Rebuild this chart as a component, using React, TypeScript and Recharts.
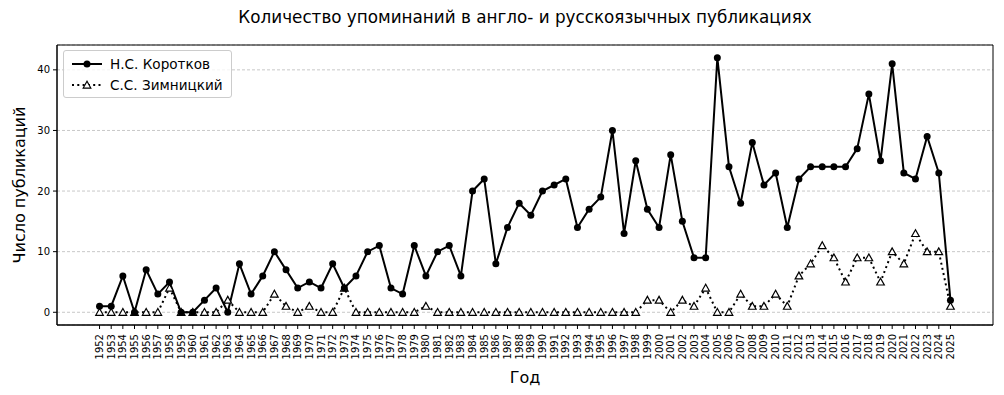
import React from "react";
import {
  LineChart,
  Line,
  XAxis,
  YAxis,
  CartesianGrid,
  ReferenceArea,
} from "recharts";

const years = [
  1952, 1953, 1954, 1955, 1956, 1957, 1958, 1959, 1960, 1961, 1962, 1963,
  1964, 1965, 1966, 1967, 1968, 1969, 1970, 1971, 1972, 1973, 1974, 1975,
  1976, 1977, 1978, 1979, 1980, 1981, 1982, 1983, 1984, 1985, 1986, 1987,
  1988, 1989, 1990, 1991, 1992, 1993, 1994, 1995, 1996, 1997, 1998, 1999,
  2000, 2001, 2002, 2003, 2004, 2005, 2006, 2007, 2008, 2009, 2010, 2011,
  2012, 2013, 2014, 2015, 2016, 2017, 2018, 2019, 2020, 2021, 2022, 2023,
  2024, 2025,
];

const korotkov = [
  1, 1, 6, 0, 7, 3, 5, 0, 0, 2, 4, 0,
  8, 3, 6, 10, 7, 4, 5, 4, 8, 4, 6, 10,
  11, 4, 3, 11, 6, 10, 11, 6, 20, 22, 8, 14,
  18, 16, 20, 21, 22, 14, 17, 19, 30, 13, 25, 17,
  14, 26, 15, 9, 9, 42, 24, 18, 28, 21, 23, 14,
  22, 24, 24, 24, 24, 27, 36, 25, 41, 23, 22, 29,
  23, 2,
];

const zimnitsky = [
  0, 0, 0, 0, 0, 0, 4, 0, 0, 0, 0, 2,
  0, 0, 0, 3, 1, 0, 1, 0, 0, 4, 0, 0,
  0, 0, 0, 0, 1, 0, 0, 0, 0, 0, 0, 0,
  0, 0, 0, 0, 0, 0, 0, 0, 0, 0, 0, 2,
  2, 0, 2, 1, 4, 0, 0, 3, 1, 1, 3, 1,
  6, 8, 11, 9, 5, 9, 9, 5, 10, 8, 13, 10,
  10, 1,
];

const yTicks = [0, 10, 20, 30, 40];

const NAME_K = "Н.С. Коротков";
const NAME_Z = "С.С. Зимницкий";
const FONT = "'DejaVu Sans', sans-serif";

const data = years.map((year, i) => ({
  year,
  k: korotkov[i],
  z: zimnitsky[i],
}));

// matplotlib-like padding (5% each side)
const xSpan = years[years.length - 1] - years[0];
const xMin = years[0] - xSpan * 0.05;
const xMax = years[years.length - 1] + xSpan * 0.05;
const yMin = -2.1;
const yMax = 44.1;

const YearTick = ({ x, y, payload }: any) => (
  <text
    x={x}
    y={y}
    transform={`rotate(-90 ${x} ${y})`}
    textAnchor="end"
    dominantBaseline="central"
    fontSize={10}
    fill="#000"
    fontFamily={FONT}
  >
    {payload.value}
  </text>
);

const Triangle = ({ cx, cy }: any) => {
  if (cx == null || cy == null) return null;
  const s = 3.8;
  return (
    <polygon
      points={`${cx},${cy - s} ${cx - s},${cy + s * 0.8} ${cx + s},${cy + s * 0.8}`}
      fill="#fff"
      stroke="#000"
      strokeWidth={1.2}
    />
  );
};

const LegendBox = () => (
  <div
    style={{
      position: "absolute",
      left: 63,
      top: 50,
      border: "1px solid #ccc",
      borderRadius: 3,
      background: "rgba(255,255,255,0.8)",
      padding: "2px 8px 2px 6px",
      fontSize: 13.6,
      color: "#000",
    }}
  >
    <div style={{ display: "flex", alignItems: "center", height: 21 }}>
      <svg width={34} height={12} style={{ marginRight: 6 }}>
        <line x1={2} y1={6} x2={32} y2={6} stroke="#000" strokeWidth={2} />
        <circle cx={17} cy={6} r={3.5} fill="#000" />
      </svg>
      {NAME_K}
    </div>
    <div style={{ display: "flex", alignItems: "center", height: 21 }}>
      <svg width={34} height={12} style={{ marginRight: 6 }}>
        <line
          x1={2}
          y1={6}
          x2={32}
          y2={6}
          stroke="#000"
          strokeWidth={2}
          strokeDasharray="2 3.3"
        />
        <Triangle cx={17} cy={6} />
      </svg>
      {NAME_Z}
    </div>
  </div>
);

export default function App() {
  return (
    <div
      style={{
        position: "absolute",
        left: 0,
        top: 0,
        width: 1004,
        height: 395,
        background: "#fff",
        fontFamily: FONT,
      }}
    >
      <div
        style={{
          position: "absolute",
          top: 7,
          left: 57,
          width: 936,
          textAlign: "center",
          fontSize: 16.8,
          color: "#000",
        }}
      >
        Количество упоминаний в англо- и русскоязычных публикациях
      </div>
      <LineChart
        width={1004}
        height={395}
        data={data}
        margin={{ top: 45, right: 11, left: 0, bottom: 0 }}
      >
        <CartesianGrid
          vertical={false}
          stroke="#c8c8c8"
          strokeDasharray="3 2"
        />
        <XAxis
          dataKey="year"
          type="number"
          domain={[xMin, xMax]}
          ticks={years}
          interval={0}
          allowDataOverflow
          height={70}
          tickSize={4}
          tickMargin={5}
          stroke="#000"
          tick={<YearTick />}
          label={({ viewBox }: any) => (
            <text
              x={viewBox.x + viewBox.width / 2}
              y={viewBox.y + 58}
              textAnchor="middle"
              fontSize={16}
              fontFamily={FONT}
              fill="#000"
            >
              Год
            </text>
          )}
        />
        <YAxis
          type="number"
          domain={[yMin, yMax]}
          ticks={yTicks}
          allowDataOverflow
          width={57}
          tickSize={4}
          tickMargin={3}
          stroke="#000"
          tick={{ fontSize: 10, fill: "#000", fontFamily: FONT }}
          label={({ viewBox }: any) => {
            const cx = viewBox.x + 19;
            const cy = viewBox.y + viewBox.height / 2;
            return (
              <text
                x={cx}
                y={cy}
                transform={`rotate(-90 ${cx} ${cy})`}
                textAnchor="middle"
                dominantBaseline="central"
                fontSize={16}
                fontFamily={FONT}
                fill="#000"
              >
                Число публикаций
              </text>
            );
          }}
        />
        <ReferenceArea
          x1={xMin}
          x2={xMax}
          y1={yMin}
          y2={yMax}
          fill="none"
          stroke="#000"
          strokeWidth={1}
          ifOverflow="visible"
        />
        <Line
          dataKey="z"
          name={NAME_Z}
          stroke="#000"
          strokeWidth={2}
          strokeDasharray="2 3.3"
          dot={<Triangle />}
          activeDot={false}
          isAnimationActive={false}
        />
        <Line
          dataKey="k"
          name={NAME_K}
          stroke="#000"
          strokeWidth={2}
          dot={{ r: 3.5, fill: "#000", stroke: "#000", strokeWidth: 0 }}
          activeDot={false}
          isAnimationActive={false}
        />
      </LineChart>
      <LegendBox />
    </div>
  );
}
